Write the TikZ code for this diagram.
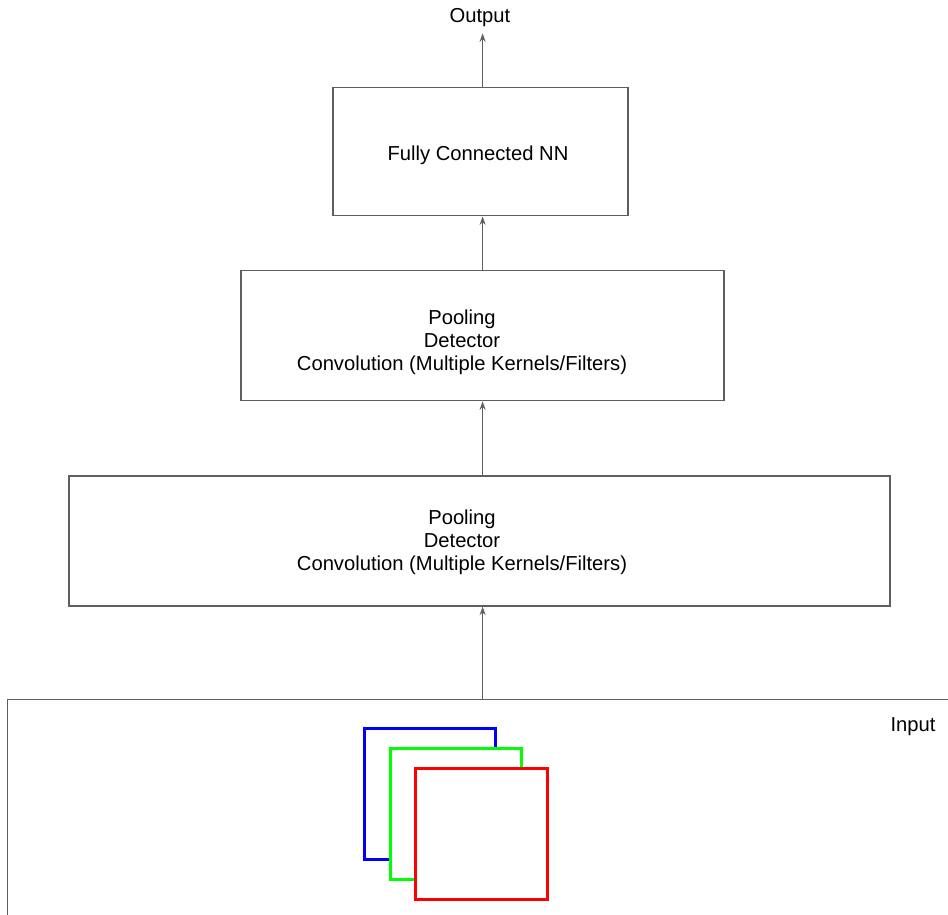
\documentclass[tikz,border=0pt]{standalone}
\usepackage{fontspec}
\setmainfont{Liberation Sans}
\usepackage{xcolor}
\usepackage{tikz}
\usetikzlibrary{arrows.meta, positioning}

\definecolor{linegray}{RGB}{95,95,95}

\begin{document}
\begin{tikzpicture}[
        x=0.02cm, y=-0.02cm,
        box/.style={draw=linegray, line width=0.8pt, rectangle, minimum height=2.6cm},
        arrow/.style={-{Stealth[length=1.7mm, width=1.2mm]}, draw=linegray, line width=0.8pt},
        txt/.style={font=\fontsize{11.5}{13.1}\selectfont, align=center},
        sheet/.style={rectangle, line width=1.7pt, fill=white, minimum size=2.64cm, inner sep=0pt}
    ]
        \useasboundingbox (0,0) rectangle (948,915);
        \clip (0,0) rectangle (948,915);

        % Nodes
        \node[draw=linegray, line width=0.8pt, rectangle, minimum width=19cm, minimum height=5cm, anchor=north west] (input) at (7,699) {};
        \node[box, minimum width=16.42cm,
            label={[txt, xshift=-0.35cm, yshift=-0.03cm]center:Pooling\\Detector\\Convolution (Multiple Kernels/Filters)}] (conv1) at (479.5,541) {};
        \node[box, minimum width=9.66cm, above=1.48cm of conv1, xshift=0.06cm,
            label={[txt, xshift=-0.41cm, yshift=-0.14cm]center:Pooling\\Detector\\Convolution (Multiple Kernels/Filters)}] (conv2) {};
        \node[box, minimum width=5.9cm, minimum height=2.56cm, above=1.07cm of conv2, xshift=-0.04cm,
            label={[txt, xshift=-0.05cm, yshift=-0.08cm]center:Fully Connected NN}] (fc) {};
        \node[txt] (output) at (480,18) {Output};
        \node[txt] (input_lbl) at (913,727) {Input};

        % Input channels
        \node[sheet, draw=blue] (chan_b) at (430,794) {};
        \node[sheet, draw=green] (chan_g) at (456,814) {};
        \node[sheet, draw=red] (chan_r) at (481.5,834) {};

        % Arrows
        \draw[arrow] (input.north) -- (input.north |- conv1.south);
        \draw[arrow] (input.north |- conv1.north) -- (input.north |- conv2.south);
        \draw[arrow] (input.north |- conv2.north) -- (input.north |- fc.south);
        \draw[arrow] (input.north |- fc.north) -- (input.north |- output.south);
    \end{tikzpicture}
\end{document}
